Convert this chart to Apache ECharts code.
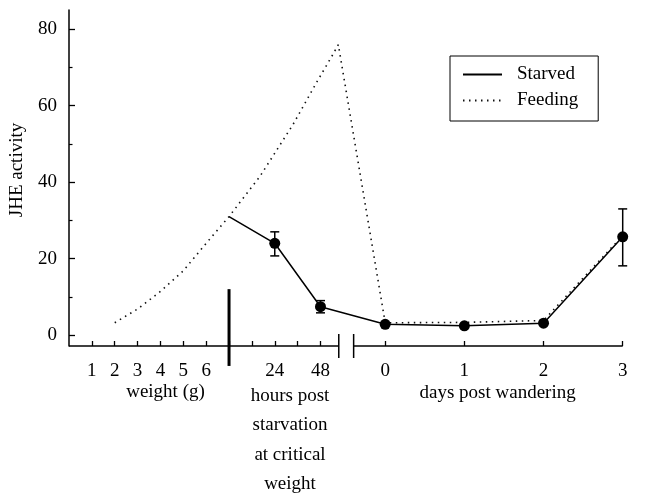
<!DOCTYPE html>
<html>
<head>
<meta charset="utf-8">
<script src="https://cdn.jsdelivr.net/npm/echarts@6/dist/echarts.min.js"></script>
<style>
  html, body { margin: 0; padding: 0; background: #fff; }
  #main { width: 650px; height: 498px; }
</style>
</head>
<body>
<div id="main"></div>
<script>
// axis ticks / labels
const weightTicks = [1, 2, 3, 4, 5, 6]
const hourTicks = [12, 24, 36, 48]
const hourLabels = [24, 48]
const dayTicks = [0, 1, 2, 3]
const yTicks = [0, 20, 40, 60, 80]
const yMinorTicks = [10, 30, 50, 70]

// Starved: hours post starvation at critical weight, then days post wandering
const starvedHours = [0, 24, 48]
const starvedHourValues = [31, 24, 7.4]
const starvedDays = [0, 1, 2, 3]
const starvedDayValues = [2.8, 2.4, 3.1, 25.7]
// error bars [x, low, high]
const errHours = [[24, 20.7, 27.0], [48, 5.8, 9.0]]
const errDays = [[3, 18.1, 33.0]]

// Feeding: position along the pre-wandering axis (weight steps), then days post wandering
const feedingX = [2, 3, 4, 5, 6, 7, 8.34, 9.79, 10.81, 11.53, 11.78]
const feedingValues = [3.2, 6.8, 11.4, 16.8, 24, 31, 41.4, 55.0, 65.9, 73.3, 76.0]
const feedingDays = [0, 1, 2, 3]
const feedingDayValues = [3.2, 3.3, 3.8, 26]

// composite x axis: weights 1..6, critical weight at 7, then 12h per step, break, then days
const critical = 7
const hourPos = h => critical + h / 12
const dayPos = d => 13.83 + 3.463 * d
const breakL = 11.8
const breakR = 12.45
const xMax = dayPos(3)
const yMin = -2.88
const yMax = 85.06

const font = 'Liberation Serif'

const labelMap = {}
weightTicks.forEach(w => { labelMap[w.toFixed(3)] = String(w) })
hourLabels.forEach(h => { labelMap[hourPos(h).toFixed(3)] = String(h) })
dayTicks.forEach(d => { labelMap[dayPos(d).toFixed(3)] = String(d) })

const tickValues = weightTicks.concat([critical], hourTicks.map(hourPos), dayTicks.map(dayPos))
const labelValues = weightTicks.concat(hourLabels.map(hourPos), dayTicks.map(dayPos))

const starvedData = starvedHours.map((h, i) => [hourPos(h), starvedHourValues[i]])
  .concat(starvedDays.map((d, i) => [dayPos(d), starvedDayValues[i]]))
const feedingData = feedingX.map((x, i) => [x, feedingValues[i]])
  .concat(feedingDays.map((d, i) => [dayPos(d), feedingDayValues[i]]))
const errData = errHours.map(e => [hourPos(e[0]), e[1], e[2]])
  .concat(errDays.map(e => [dayPos(e[0]), e[1], e[2]]))

let chart = echarts.init(document.getElementById('main'))

chart.setOption({
  animation: false,
  textStyle: { fontFamily: font, color: '#000' },
  grid: { left: 67, right: 27.3, top: 10, bottom: 152 },
  legend: {
    data: ['Starved', 'Feeding'],
    orient: 'vertical',
    left: 450,
    top: 56,
    padding: [9, 20, 11, 12],
    itemGap: 7,
    itemWidth: 39,
    itemHeight: 14,
    borderColor: '#000',
    borderWidth: 1,
    itemStyle: { opacity: 0 },
    textStyle: { fontFamily: font, fontSize: 19, color: '#000', padding: [0, 0, 0, 10] },
  },
  xAxis: {
    type: 'value',
    min: 0,
    max: xMax,
    axisLine: { show: false, onZero: false },
    splitLine: { show: false },
    axisTick: {
      inside: true,
      length: 5,
      customValues: tickValues,
      lineStyle: { color: '#000', width: 1.3 },
    },
    axisLabel: {
      customValues: labelValues,
      margin: 16,
      fontSize: 19,
      fontFamily: font,
      color: '#000',
      formatter: v => labelMap[v.toFixed(3)] || '',
    },
  },
  yAxis: [
    {
      type: 'value',
      min: yMin,
      max: yMax,
      name: 'JHE activity',
      nameLocation: 'middle',
      nameGap: 42,
      nameRotate: 90,
      nameTextStyle: { fontSize: 19, fontFamily: font, color: '#000', padding: [0, 0, 0, 16] },
      splitLine: { show: false },
      axisLine: { show: true, onZero: false, lineStyle: { color: '#000', width: 1.5 } },
      axisTick: {
        inside: true,
        length: 6,
        customValues: yTicks,
        lineStyle: { color: '#000', width: 1.3 },
      },
      axisLabel: {
        customValues: yTicks,
        margin: 12,
        fontSize: 19,
        fontFamily: font,
        color: '#000',
      },
    },
    {
      // minor ticks
      type: 'value',
      min: yMin,
      max: yMax,
      position: 'left',
      splitLine: { show: false },
      axisLine: { show: false, onZero: false },
      axisLabel: { show: false },
      axisTick: {
        inside: true,
        length: 3.5,
        customValues: yMinorTicks,
        lineStyle: { color: '#000', width: 1.2 },
      },
    },
  ],
  series: [
    {
      name: 'Feeding',
      type: 'line',
      data: feedingData,
      symbol: 'none',
      lineStyle: { color: '#111', width: 1.6, type: [1.5, 4.5] },
      itemStyle: { color: '#111' },
      z: 2,
    },
    {
      name: 'Starved',
      type: 'line',
      data: starvedData,
      symbol: 'none',
      lineStyle: { color: '#000', width: 1.5 },
      itemStyle: { color: '#000' },
      z: 3,
    },
    {
      name: 'errors',
      type: 'custom',
      data: errData,
      encode: { x: 0, y: [1, 2] },
      z: 4,
      renderItem: (params, api) => {
        let top = api.coord([api.value(0), api.value(2)])
        let bot = api.coord([api.value(0), api.value(1)])
        let half = 4.5
        let style = { stroke: '#000', lineWidth: 1.5 }
        return {
          type: 'group',
          children: [
            { type: 'line', shape: { x1: top[0], y1: top[1], x2: bot[0], y2: bot[1] }, style: style },
            { type: 'line', shape: { x1: top[0] - half, y1: top[1], x2: top[0] + half, y2: top[1] }, style: style },
            { type: 'line', shape: { x1: bot[0] - half, y1: bot[1], x2: bot[0] + half, y2: bot[1] }, style: style },
          ],
        }
      },
    },
    {
      name: 'points',
      type: 'scatter',
      data: starvedData.slice(1),
      symbol: 'circle',
      symbolSize: 11,
      itemStyle: { color: '#000', opacity: 1 },
      z: 5,
    },
  ],
})

// axis line with break, critical weight bar and group captions
const px = (x, y) => chart.convertToPixel({ gridIndex: 0 }, [x, y])
const base = px(0, yMin)
const bl = px(breakL, yMin)
const br = px(breakR, yMin)
const end = px(xMax, yMin)
const barTop = px(critical, 12)
const barBot = px(critical, -8.1)
const axisStyle = { stroke: '#000', lineWidth: 1.5 }

const caption = (x, y, text) => ({
  type: 'text',
  x: x,
  y: y,
  style: { text: text, fontSize: 19, fontFamily: font, fill: '#000', align: 'center', verticalAlign: 'middle' },
})

chart.setOption({
  graphic: [
    { type: 'line', shape: { x1: base[0], y1: base[1], x2: bl[0], y2: bl[1] }, style: axisStyle },
    { type: 'line', shape: { x1: br[0], y1: br[1], x2: end[0], y2: end[1] }, style: axisStyle },
    { type: 'line', shape: { x1: bl[0], y1: bl[1] - 12, x2: bl[0], y2: bl[1] + 12 }, style: axisStyle },
    { type: 'line', shape: { x1: br[0], y1: br[1] - 12, x2: br[0], y2: br[1] + 12 }, style: axisStyle },
    { type: 'line', shape: { x1: barTop[0], y1: barTop[1], x2: barBot[0], y2: barBot[1] }, style: { stroke: '#000', lineWidth: 3 } },
    caption(px(4.22, 0)[0], base[1] + 46, 'weight (g)'),
    caption(px(hourPos(32), 0)[0], base[1] + 50, 'hours post'),
    caption(px(hourPos(32), 0)[0], base[1] + 79.5, 'starvation'),
    caption(px(hourPos(32), 0)[0], base[1] + 109, 'at critical'),
    caption(px(hourPos(32), 0)[0], base[1] + 138.5, 'weight'),
    caption(px(dayPos(1.42), 0)[0], base[1] + 47, 'days post wandering'),
  ],
})

window.addEventListener('resize', () => {
  chart.resize()
})
</script>
</body>
</html>
